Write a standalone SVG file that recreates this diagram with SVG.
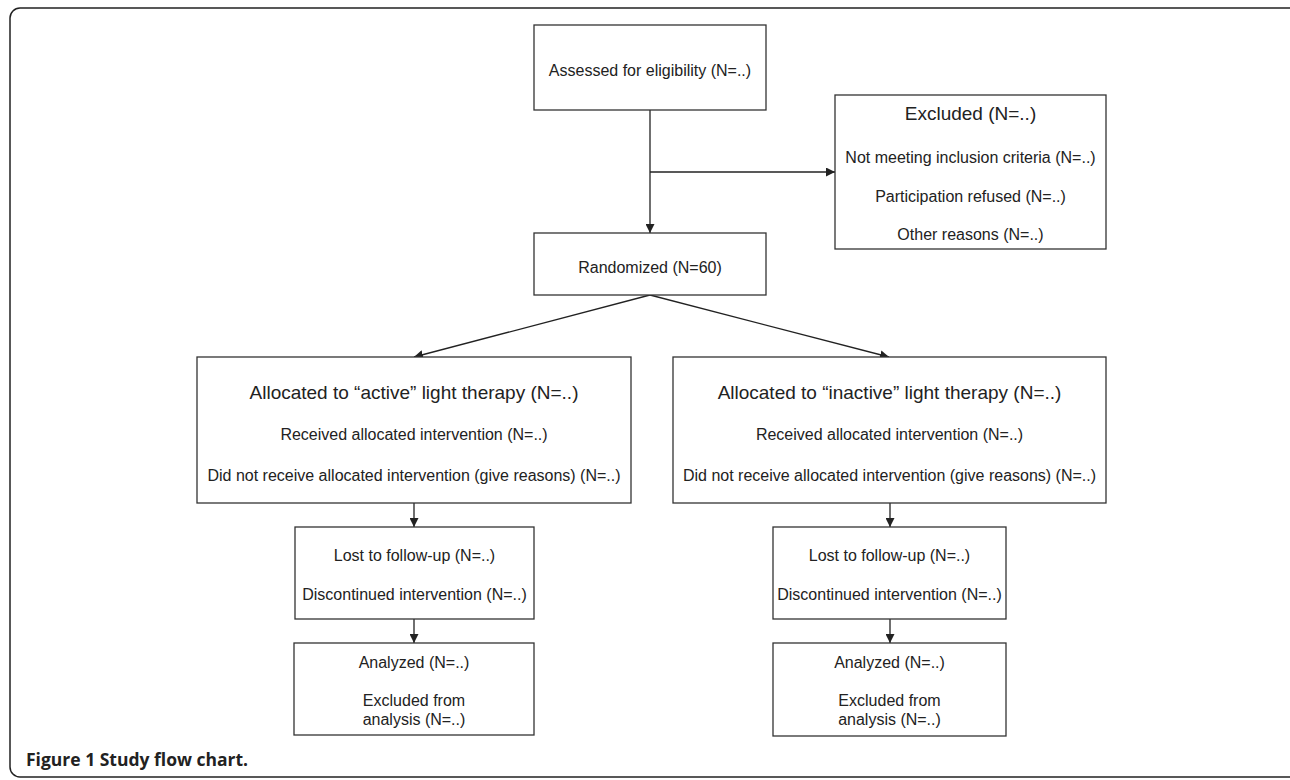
<svg xmlns="http://www.w3.org/2000/svg" width="1290" height="780" viewBox="0 0 1290 780">
<defs>
<marker id="ah" viewBox="0 0 10 10" refX="10" refY="5" markerWidth="9" markerHeight="9" markerUnits="userSpaceOnUse" orient="auto">
<path d="M0,0 L10,5 L0,10 z" fill="#222"/>
</marker>
<style>
.box{fill:#fff;stroke:#333;stroke-width:1.3}
.t{font-family:"Liberation Sans",Arial,sans-serif;font-size:16px;fill:#222;text-anchor:middle}
.h{font-size:19px}
.c{fill:none;stroke:#222;stroke-width:1.3;marker-end:url(#ah)}
.cap{font-family:"Open Sans","Liberation Sans",sans-serif;font-weight:bold;font-size:17.5px;fill:#222}
</style>
</defs>
<rect x="10" y="8" width="1290" height="769" rx="10" fill="#fff" stroke="#222" stroke-width="1.5"/>
<g id="connectors">
<line class="c" x1="650" y1="110" x2="650" y2="233"/>
<line class="c" x1="650" y1="172" x2="835" y2="172"/>
<line class="c" x1="650" y1="295" x2="414" y2="357"/>
<line class="c" x1="650" y1="295" x2="889" y2="357"/>
<line class="c" x1="414" y1="503" x2="414" y2="527"/>
<line class="c" x1="414" y1="619" x2="414" y2="643"/>
<line class="c" x1="890" y1="503" x2="890" y2="527"/>
<line class="c" x1="890" y1="619" x2="890" y2="643"/>
</g>
<g id="assessed">
<rect class="box" x="534" y="25" width="232" height="85"/>
<text class="t" x="650" y="76">Assessed for eligibility (N=..)</text>
</g>
<g id="excluded">
<rect class="box" x="835" y="95" width="271" height="154"/>
<text class="t h" x="970.5" y="120">Excluded (N=..)</text>
<text class="t" x="970.5" y="163">Not meeting inclusion criteria (N=..)</text>
<text class="t" x="970.5" y="202">Participation refused (N=..)</text>
<text class="t" x="970.5" y="240">Other reasons (N=..)</text>
</g>
<g id="randomized">
<rect class="box" x="534" y="233" width="232" height="62"/>
<text class="t" x="650" y="273">Randomized (N=60)</text>
</g>
<g id="alloc-active">
<rect class="box" x="197" y="357" width="434" height="146"/>
<text class="t h" x="414" y="399">Allocated to “active” light therapy (N=..)</text>
<text class="t" x="414" y="440">Received allocated intervention (N=..)</text>
<text class="t" x="414" y="481">Did not receive allocated intervention (give reasons) (N=..)</text>
</g>
<g id="alloc-inactive">
<rect class="box" x="673" y="357" width="433" height="146"/>
<text class="t h" x="889.5" y="399">Allocated to “inactive” light therapy (N=..)</text>
<text class="t" x="889.5" y="440">Received allocated intervention (N=..)</text>
<text class="t" x="889.5" y="481">Did not receive allocated intervention (give reasons) (N=..)</text>
</g>
<g id="lost-active">
<rect class="box" x="295" y="527" width="239" height="92"/>
<text class="t" x="414.5" y="561">Lost to follow-up (N=..)</text>
<text class="t" x="414.5" y="600">Discontinued intervention (N=..)</text>
</g>
<g id="lost-inactive">
<rect class="box" x="773" y="527" width="233" height="92"/>
<text class="t" x="889.5" y="561">Lost to follow-up (N=..)</text>
<text class="t" x="889.5" y="600">Discontinued intervention (N=..)</text>
</g>
<g id="analyzed-active">
<rect class="box" x="294" y="643" width="240" height="92"/>
<text class="t" x="414" y="668">Analyzed (N=..)</text>
<text class="t" x="414" y="706">Excluded from</text>
<text class="t" x="414" y="725">analysis (N=..)</text>
</g>
<g id="analyzed-inactive">
<rect class="box" x="773" y="643" width="233" height="93"/>
<text class="t" x="889.5" y="668">Analyzed (N=..)</text>
<text class="t" x="889.5" y="706">Excluded from</text>
<text class="t" x="889.5" y="725">analysis (N=..)</text>
</g>
<text class="cap" x="26" y="766">Figure 1 Study flow chart.</text>
</svg>
